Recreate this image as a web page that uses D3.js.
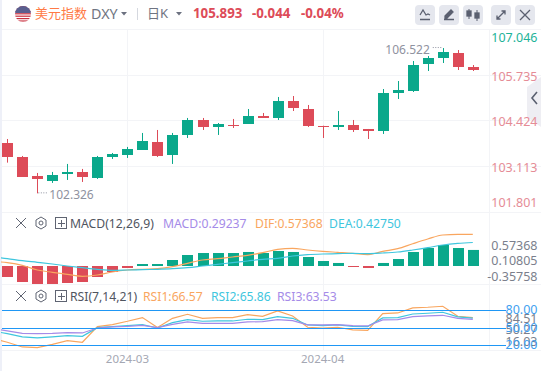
<!DOCTYPE html>
<html>
<head>
<meta charset="utf-8">
<script src="https://cdn.jsdelivr.net/npm/d3@7"></script>
<style>
  html, body { margin: 0; padding: 0; background: #fff; overflow: hidden; }
  svg { display: block; font-family: "Noto Sans", "Noto Sans CJK SC", sans-serif; }
</style>
</head>
<body>
<div id="chart"></div>
<script>
// daily candles
const high  = [103.896,103.406,102.915,102.944,103.175,103.031,103.406,103.492,103.666,104.070,104.156,104.070,104.503,104.503,104.358,104.474,104.762,104.647,105.109,105.137,104.878,104.280,104.704,104.445,104.185,105.339,105.570,106.148,106.292,106.522,106.465,106.032];
const open  = [103.781,103.377,102.829,102.684,102.886,102.944,102.771,103.377,103.435,103.579,103.810,103.435,104.012,104.445,104.243,104.301,104.329,104.560,104.503,104.993,104.762,104.280,104.243,104.301,104.185,104.127,105.224,105.282,106.061,106.234,106.378,105.974];
const close = [103.377,102.800,102.742,102.857,102.944,102.800,103.377,103.463,103.608,103.839,103.406,104.012,104.445,104.243,104.329,104.280,104.560,104.503,104.993,104.791,104.280,104.257,104.301,104.156,104.136,105.224,105.311,106.032,106.234,106.407,105.974,105.893];
const low   = [103.213,102.800,102.326,102.627,102.713,102.655,102.742,103.319,103.348,103.579,103.377,103.175,103.925,104.156,104.012,104.214,104.530,104.503,104.445,104.704,104.243,103.925,104.156,104.098,103.896,104.041,105.051,105.253,105.859,106.090,105.888,105.859];

const priceTicks = [107.046, 105.735, 104.424, 103.113, 101.801];
const dateLabels = ['2024-03', '2024-04'];
const dateIndex = [8, 21];

// MACD panel, first line point sits one day left of the window
const histValues = [-0.2,-0.291,-0.327,-0.327,-0.309,-0.291,-0.2,-0.109,-0.036,0.036,0.036,0.109,0.2,0.236,0.236,0.236,0.255,0.236,0.273,0.255,0.164,0.091,0.055,-0.018,-0.036,0.055,0.127,0.255,0.327,0.382,0.327,0.292];
const difValues = [0.085,0.06,0.012,-0.073,-0.115,-0.151,-0.187,-0.164,-0.109,-0.073,-0.06,-0.049,-0.013,0.049,0.109,0.133,0.164,0.194,0.242,0.303,0.321,0.291,0.267,0.249,0.231,0.206,0.267,0.315,0.405,0.491,0.564,0.576,0.574];
const deaValues = [0.164,0.133,0.096,0.067,0.036,0,-0.031,-0.06,-0.078,-0.073,-0.067,-0.06,-0.049,-0.031,0,0.031,0.06,0.091,0.122,0.14,0.182,0.206,0.218,0.224,0.231,0.224,0.236,0.255,0.291,0.333,0.382,0.412,0.4275];
const macdLabels = ['0.57368', '0.10805', '-0.35758'];

// RSI panel
const rsi1 = [31.8,25.1,17.2,16.1,21.7,27.9,25.1,51.5,54.9,60.5,66.7,49.8,65.5,72.3,65.5,66.7,66.7,71.7,68.9,77.9,69.5,50.4,49.2,50.4,45.9,45.3,73.4,74.5,83.0,84.1,85.8,68.9,66.57];
const rsi2 = [44.2,39.7,34.1,32.4,34.1,36.3,35.2,49.8,51.5,53.2,54.9,49.2,58.2,63.3,60.5,61.0,61.0,63.9,63.3,68.4,65.5,54.3,53.2,54.3,52.0,51.5,66.1,66.7,72.8,74.0,75.7,67.8,65.86];
const rsi3 = [48.1,44.2,40.2,39.7,40.2,41.4,40.8,49.2,50.9,52.0,53.7,49.8,55.4,59.4,57.1,57.1,57.1,59.4,59.9,63.3,61.6,54.3,54.3,54.9,53.2,52.6,62.7,63.3,68.4,69.5,70.6,65.5,63.53];
const rsiBands = [80, 50, 20];
const rsiGray = [[84.51, 318], [50.27, 329], [16.03, 341]];

const width = 541;
const height = 371;
const green = '#0aa88b';
const red = '#dd4b58';
const orange = '#f9a65f';
const cyan = '#3fc6de';
const purple = '#a58be8';
const gridColor = '#f3f4f7';

const svg = d3.select('#chart').append('svg')
  .attr('width', width)
  .attr('height', height);

const days = d3.range(high.length);
const xScale = d3.scaleLinear().domain([0, 31]).range([7.3, 472.8]);
const priceScale = d3.scaleLinear().domain([105.735, 104.424]).range([75.3, 120.7]);
const macdScale = d3.scaleLinear().domain([0, 1]).range([266, 211]);
const rsiScale = d3.scaleLinear().domain([20, 80]).range([345.3, 309.7]);

svg.append('defs').append('clipPath').attr('id', 'plot')
  .append('rect').attr('x', 1).attr('y', 0).attr('width', 488).attr('height', height);

// page edge and grid
svg.append('rect').attr('width', 2).attr('height', height).attr('fill', '#eef0f8');

const grid = svg.append('g').attr('stroke', gridColor).attr('fill', 'none');
[29.5, 75.5, 120.5, 166.5, 212.5, 284.5, 350.5].forEach(y => {
  grid.append('line').attr('x1', 2).attr('x2', 541).attr('y1', y).attr('y2', y);
});
grid.selectAll('.vgrid').data(dateIndex).join('line')
  .attr('x1', d => Math.round(xScale(d)) + 0.5)
  .attr('x2', d => Math.round(xScale(d)) + 0.5)
  .attr('y1', 29).attr('y2', 350);
grid.append('line').attr('x1', 489.5).attr('x2', 489.5).attr('y1', 29).attr('y2', 350);

// candles
const candles = svg.append('g').selectAll('g').data(days).join('g')
  .attr('fill', i => close[i] >= open[i] ? green : red)
  .attr('stroke', i => close[i] >= open[i] ? green : red);

candles.append('line')
  .attr('x1', i => Math.round(xScale(i)) + 0.5)
  .attr('x2', i => Math.round(xScale(i)) + 0.5)
  .attr('y1', i => priceScale(high[i]))
  .attr('y2', i => priceScale(low[i]))
  .attr('stroke-width', 1);

candles.append('rect')
  .attr('x', i => Math.round(xScale(i)) - 5)
  .attr('width', 11)
  .attr('y', i => Math.round(priceScale(Math.max(open[i], close[i]))))
  .attr('height', i => Math.max(1, Math.round(Math.abs(priceScale(open[i]) - priceScale(close[i])))))
  .attr('stroke', 'none');

// high / low notes
const lowIdx = d3.minIndex(low);
const highIdx = d3.maxIndex(high);
const notes = svg.append('g').attr('font-size', 12).attr('fill', '#8f92a0');
notes.append('line')
  .attr('x1', xScale(lowIdx) + 1).attr('x2', xScale(lowIdx) + 11)
  .attr('y1', priceScale(low[lowIdx]) - 0.5).attr('y2', priceScale(low[lowIdx]) - 0.5)
  .attr('stroke', '#8f92a0').attr('stroke-dasharray', '1 1.5');
notes.append('text')
  .attr('x', xScale(lowIdx) + 12).attr('y', priceScale(low[lowIdx]) + 6)
  .text(low[lowIdx].toFixed(3));
notes.append('line')
  .attr('x1', xScale(highIdx) - 10).attr('x2', xScale(highIdx))
  .attr('y1', priceScale(high[highIdx]) - 0.5).attr('y2', priceScale(high[highIdx]) - 0.5)
  .attr('stroke', '#8f92a0').attr('stroke-dasharray', '1 1.5');
notes.append('text')
  .attr('text-anchor', 'end')
  .attr('x', xScale(highIdx) - 13).attr('y', priceScale(high[highIdx]) + 6)
  .text(high[highIdx].toFixed(3));

// side handle, the labels sit on top of it
svg.append('path').attr('d', 'M541 77 L527 87 L527 117 L541 127 Z').attr('fill', '#eeeef3');
svg.append('path').attr('d', 'M537 92 L532 98 L537 104').attr('fill', 'none')
  .attr('stroke', '#5a6070').attr('stroke-width', 1.6);

// price labels get pushed inside the panel at both ends
svg.append('g').attr('font-size', 12.5).attr('text-anchor', 'end')
  .selectAll('text').data(priceTicks).join('text')
  .attr('x', 537.5)
  .attr('y', d => Math.min(206.5, Math.max(42, priceScale(d) + 5.5)))
  .attr('fill', (d, i) => i === 0 ? '#1eb398' : '#e58c96')
  .text(d => d.toFixed(3));

// MACD
const hist = svg.append('g').selectAll('rect').data(histValues).join('rect')
  .attr('x', (d, i) => Math.round(xScale(i)) - 5)
  .attr('width', 11)
  .attr('y', d => Math.min(macdScale(d), macdScale(0)))
  .attr('height', d => Math.abs(macdScale(d) - macdScale(0)))
  .attr('fill', d => d >= 0 ? green : red);

const lineX = (d, i) => xScale(i - 1);
const macdLine = d3.line().x(lineX).y(d => macdScale(d)).curve(d3.curveMonotoneX);
const rsiLine = d3.line().x(lineX).y(d => rsiScale(d));

const lines = svg.append('g').attr('fill', 'none').attr('clip-path', 'url(#plot)').attr('stroke-width', 1.2);
lines.append('path').attr('d', macdLine(difValues)).attr('stroke', orange);
lines.append('path').attr('d', macdLine(deaValues)).attr('stroke', cyan);

const macdLabelY = d3.scalePoint().domain(macdLabels).range([249.5, 281]);
svg.append('g').attr('font-size', 12.5).attr('fill', '#7b7f8c').attr('text-anchor', 'end')
  .selectAll('text').data(macdLabels).join('text')
  .attr('x', 537.5).attr('y', d => macdLabelY(d))
  .text(d => d);

// RSI
svg.append('g').attr('stroke', '#1f97f5').selectAll('line').data(rsiBands).join('line')
  .attr('x1', 2).attr('x2', 506)
  .attr('y1', d => Math.round(rsiScale(d)) + 0.5)
  .attr('y2', d => Math.round(rsiScale(d)) + 0.5);

lines.append('path').attr('d', rsiLine(rsi1)).attr('stroke', orange);
lines.append('path').attr('d', rsiLine(rsi2)).attr('stroke', cyan);
lines.append('path').attr('d', rsiLine(rsi3)).attr('stroke', purple);

svg.append('g').attr('font-size', 12.5).attr('text-anchor', 'end').attr('fill', '#7b7f8c')
  .selectAll('text').data(rsiGray).join('text')
  .attr('x', 537.5).attr('y', d => d[1] + 4.5)
  .text(d => d[0].toFixed(2));
svg.append('g').attr('font-size', 12.5).attr('text-anchor', 'end').attr('fill', '#3f9ff0')
  .selectAll('text').data(rsiBands).join('text')
  .attr('x', 537.5).attr('y', d => rsiScale(d) + 4)
  .text(d => d.toFixed(2));

// dates
svg.append('g').attr('font-size', 11.5).attr('fill', '#a4a7b3').attr('text-anchor', 'middle')
  .selectAll('text').data(dateIndex).join('text')
  .attr('x', d => xScale(d))
  .attr('y', 363)
  .text((d, i) => dateLabels[i]);

// header
function label(x, y, text, size, color, weight) {
  svg.append('text').attr('x', x).attr('y', y).attr('font-size', size)
    .attr('fill', color).attr('font-weight', weight || 400).text(text);
}
function caret(x, y) {
  svg.append('path').attr('d', `M${x} ${y} h6 l-3 3.5 Z`).attr('fill', '#6c7180');
}

const flag = svg.append('g');
svg.select('defs').append('clipPath').attr('id', 'flag')
  .append('circle').attr('cx', 23).attr('cy', 14).attr('r', 8);
const flagInner = flag.append('g').attr('clip-path', 'url(#flag)');
flagInner.append('rect').attr('x', 15).attr('y', 6).attr('width', 16).attr('height', 16).attr('fill', '#fff');
d3.range(7).forEach(i => {
  flagInner.append('rect').attr('x', 15).attr('y', 6 + i * 2.4).attr('width', 16).attr('height', 1.2).attr('fill', '#c8303f');
});
flagInner.append('rect').attr('x', 15).attr('y', 6).attr('width', 16).attr('height', 7).attr('fill', '#5a5f8f');

label(35, 18, '美元指数', 13, '#ff7a45');
label(91, 19, 'DXY', 14.3, '#6f7482');
caret(121, 12);
svg.append('line').attr('x1', 137.5).attr('x2', 137.5).attr('y1', 8).attr('y2', 20).attr('stroke', '#d5d8df');
label(147, 18, '日K', 13, '#6f7482');
caret(176, 12);
label(193, 18, '105.893', 13.3, red, 700);
label(252, 18, '-0.044', 13.3, red, 700);
label(301, 18, '-0.04%', 13.3, red, 700);

// toolbar buttons
const buttons = [415, 439, 463, 491, 515];
svg.append('g').selectAll('rect').data(buttons).join('rect')
  .attr('x', d => d).attr('y', 5).attr('width', 20).attr('height', 20).attr('rx', 4)
  .attr('fill', '#e5e7ee');
const icon = svg.append('g').attr('fill', 'none').attr('stroke', '#5b6070').attr('stroke-width', 1.3);
icon.append('path').attr('d', 'M420 15 l3 -5 l3 5 l2 -1 l2 1 M420 19.5 h10');
icon.append('path').attr('d', 'M444 19.5 h10 M445 16 l6 -6 l2 2 l-6 6 h-2 Z').attr('fill', '#5b6070');
icon.append('path').attr('d', 'M469 9 v10 M477 10 v11').attr('stroke-width', 1);
icon.append('rect').attr('x', 467).attr('y', 11).attr('width', 4).attr('height', 5).attr('fill', '#5b6070');
icon.append('rect').attr('x', 475).attr('y', 13).attr('width', 4).attr('height', 5).attr('fill', '#5b6070');
icon.append('path').attr('d', 'M497 19 l8 -8 M501.5 11 h3.5 v3.5 M497 15.5 v3.5 h3.5');
icon.append('path').attr('d', 'M520 10 l10 10 M530 10 l-10 10');

// panel legends
function panelIcons(y) {
  const g = svg.append('g').attr('fill', 'none').attr('stroke', '#5f6472').attr('stroke-width', 1);
  g.append('path').attr('d', `M16 ${y - 5} l10 10 M26 ${y - 5} l-10 10`);
  g.append('path').attr('d', `M41 ${y - 6} l5 3 v6 l-5 3 l-5 -3 v-6 Z`);
  g.append('circle').attr('cx', 41).attr('cy', y).attr('r', 2);
  g.append('rect').attr('x', 55.5).attr('y', y - 5.5).attr('width', 11).attr('height', 11);
  g.append('path').attr('d', `M58 ${y + 0.5} h7 M61.5 ${y - 3} v7`);
}
panelIcons(223);
panelIcons(296);

label(70, 228, 'MACD(12,26,9)', 12.2, '#50555f');
label(163, 228, 'MACD:0.29237', 12.2, purple);
label(255, 228, 'DIF:0.57368', 12.2, orange);
label(329, 228, 'DEA:0.42750', 12.2, cyan);

label(70, 301, 'RSI(7,14,21)', 12.2, '#50555f');
label(143, 301, 'RSI1:66.57', 12.2, orange);
label(211, 301, 'RSI2:65.86', 12.2, cyan);
label(277, 301, 'RSI3:63.53', 12.2, purple);
</script>
</body>
</html>
